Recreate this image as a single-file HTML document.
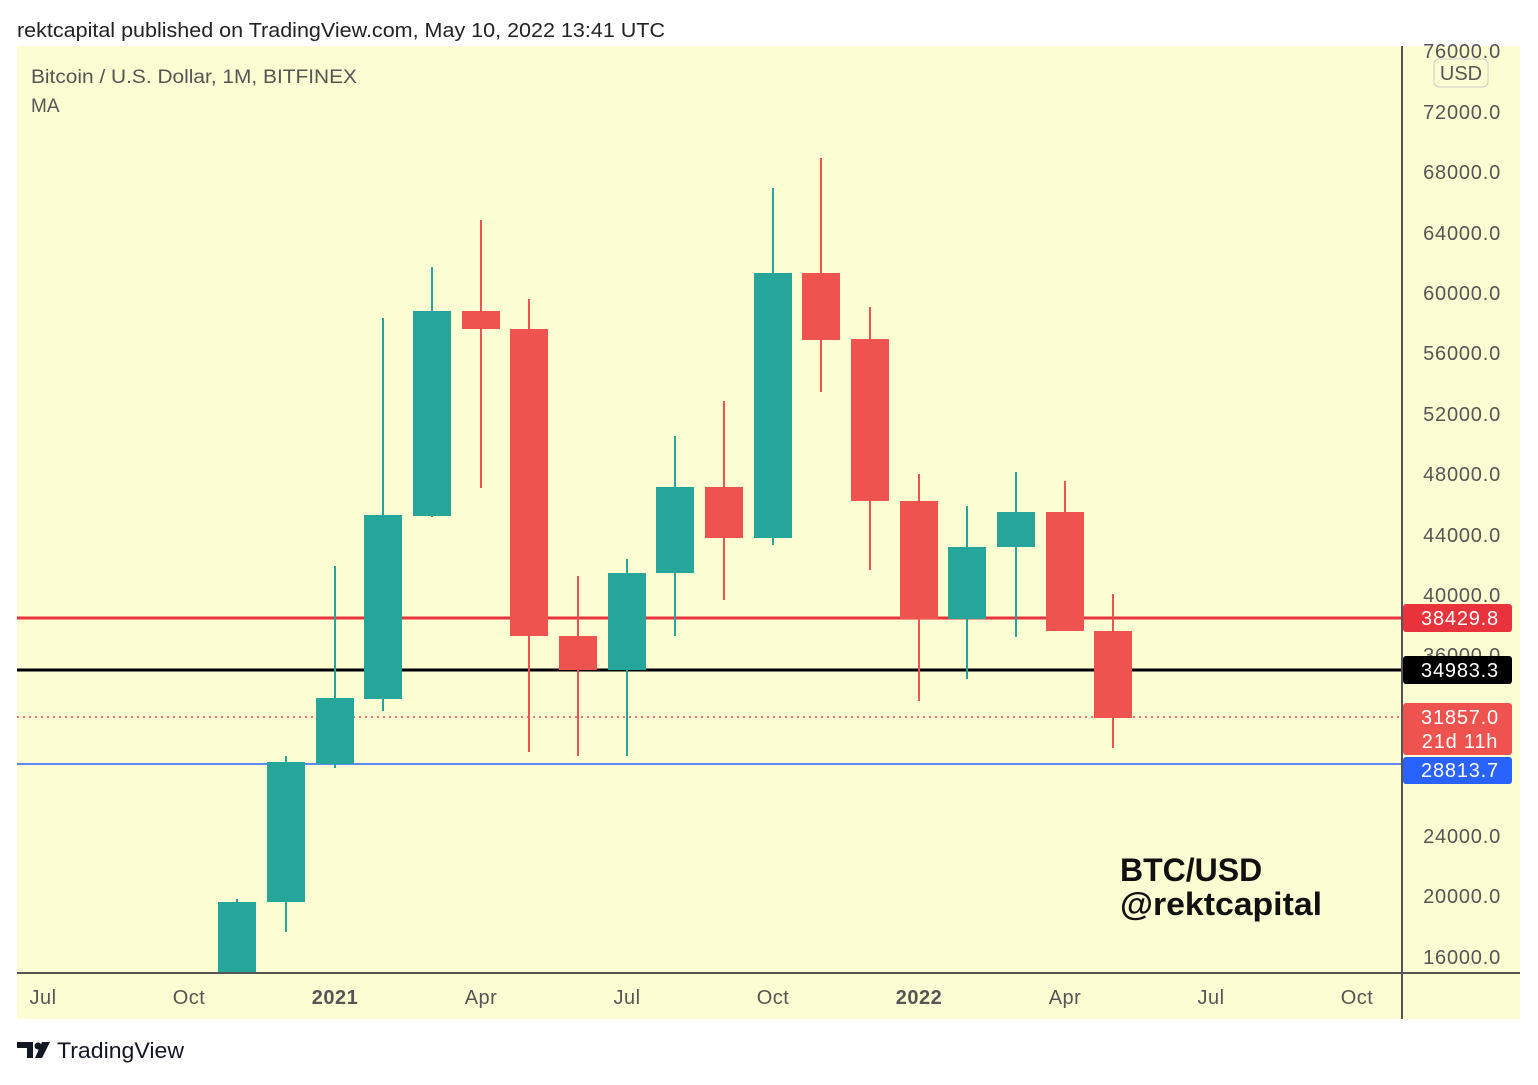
<!DOCTYPE html>
<html><head><meta charset="utf-8"><style>
body{margin:0;background:#fff;font-family:"Liberation Sans",sans-serif}
</style></head><body>
<svg width="1538" height="1080" xmlns="http://www.w3.org/2000/svg" font-family="Liberation Sans, sans-serif">
<rect width="1538" height="1080" fill="#fff"/>
<text x="17" y="37" font-size="20" fill="#222" textLength="648" lengthAdjust="spacingAndGlyphs">rektcapital published on TradingView.com, May 10, 2022 13:41 UTC</text>
<rect x="17" y="46" width="1503" height="973" fill="#fdfdd3"/>
<g font-size="20" fill="#555" text-anchor="end" letter-spacing="0.8">
<text x="1501" y="58">76000.0</text>
<text x="1501" y="119">72000.0</text>
<text x="1501" y="179">68000.0</text>
<text x="1501" y="240">64000.0</text>
<text x="1501" y="300">60000.0</text>
<text x="1501" y="360">56000.0</text>
<text x="1501" y="421">52000.0</text>
<text x="1501" y="481">48000.0</text>
<text x="1501" y="542">44000.0</text>
<text x="1501" y="602">40000.0</text>
<text x="1501" y="662">36000.0</text>
<text x="1501" y="843">24000.0</text>
<text x="1501" y="903">20000.0</text>
<text x="1501" y="964">16000.0</text>
</g>
<rect x="1434" y="59" width="54" height="28" rx="5" fill="#fdfdd3" stroke="#ccc"/>
<text x="1461" y="80" font-size="20" fill="#555" text-anchor="middle">USD</text>
<text x="31" y="83" font-size="19" fill="#555" textLength="326" lengthAdjust="spacingAndGlyphs">Bitcoin / U.S. Dollar, 1M, BITFINEX</text>
<text x="31" y="112" font-size="19" fill="#555">MA</text>
<!-- lines -->
<line x1="17" y1="618" x2="1402" y2="618" stroke="#e8323c" stroke-width="3"/>
<line x1="17" y1="670" x2="1402" y2="670" stroke="#000" stroke-width="3"/>
<line x1="17" y1="717" x2="1402" y2="717" stroke="#e05050" stroke-width="1.5" stroke-dasharray="2,4"/>
<line x1="17" y1="764" x2="1402" y2="764" stroke="#2962ff" stroke-width="1.5"/>
<!-- candles -->
<g stroke-width="2">
<g stroke="#26a69a" fill="#26a69a">
<line x1="237" y1="899" x2="237" y2="972"/><rect x="218" y="902" width="38" height="70" stroke="none"/>
<line x1="286" y1="756" x2="286" y2="932"/><rect x="267" y="762" width="38" height="140" stroke="none"/>
<line x1="335" y1="566" x2="335" y2="768"/><rect x="316" y="698" width="38" height="66" stroke="none"/>
<line x1="383" y1="318" x2="383" y2="711"/><rect x="364" y="515" width="38" height="184" stroke="none"/>
<line x1="432" y1="267" x2="432" y2="517"/><rect x="413" y="311" width="38" height="205" stroke="none"/>
<line x1="627" y1="559" x2="627" y2="756"/><rect x="608" y="573" width="38" height="97" stroke="none"/>
<line x1="675" y1="436" x2="675" y2="636"/><rect x="656" y="487" width="38" height="86" stroke="none"/>
<line x1="773" y1="188" x2="773" y2="545"/><rect x="754" y="273" width="38" height="265" stroke="none"/>
<line x1="967" y1="506" x2="967" y2="679"/><rect x="948" y="547" width="38" height="72" stroke="none"/>
<line x1="1016" y1="472" x2="1016" y2="637"/><rect x="997" y="512" width="38" height="35" stroke="none"/>
</g>
<g stroke="#ef5350" fill="#ef5350">
<line x1="481" y1="220" x2="481" y2="488"/><rect x="462" y="311" width="38" height="18" stroke="none"/>
<line x1="529" y1="299" x2="529" y2="752"/><rect x="510" y="329" width="38" height="307" stroke="none"/>
<line x1="578" y1="576" x2="578" y2="756"/><rect x="559" y="636" width="38" height="34" stroke="none"/>
<line x1="724" y1="401" x2="724" y2="600"/><rect x="705" y="487" width="38" height="51" stroke="none"/>
<line x1="821" y1="158" x2="821" y2="392"/><rect x="802" y="273" width="38" height="67" stroke="none"/>
<line x1="870" y1="307" x2="870" y2="570"/><rect x="851" y="339" width="38" height="162" stroke="none"/>
<line x1="919" y1="474" x2="919" y2="701"/><rect x="900" y="501" width="38" height="118" stroke="none"/>
<line x1="1065" y1="481" x2="1065" y2="631"/><rect x="1046" y="512" width="38" height="119" stroke="none"/>
<line x1="1113" y1="594" x2="1113" y2="748"/><rect x="1094" y="631" width="38" height="87" stroke="none"/>
</g>
</g>
<!-- axes -->
<line x1="17" y1="973" x2="1520" y2="973" stroke="#555" stroke-width="2"/>
<line x1="1402" y1="46" x2="1402" y2="1019" stroke="#555" stroke-width="2"/>
<!-- price labels -->
<g font-size="20" fill="#fff" text-anchor="middle" letter-spacing="0.8">
<rect x="1403" y="604" width="109" height="28" rx="3" fill="#e8323c"/>
<text x="1460" y="625">38429.8</text>
<rect x="1403" y="656" width="109" height="28" rx="3" fill="#000"/>
<text x="1460" y="677">34983.3</text>
<rect x="1403" y="703" width="109" height="52" rx="3" fill="#ef5350"/>
<text x="1460" y="724">31857.0</text>
<text x="1460" y="748">21d 11h</text>
<rect x="1403" y="757" width="109" height="27" rx="3" fill="#2962ff"/>
<text x="1460" y="777">28813.7</text>
</g>
<!-- time labels -->
<g font-size="20" fill="#555" text-anchor="middle" letter-spacing="0.5">
<text x="43" y="1004">Jul</text>
<text x="189" y="1004">Oct</text>
<text x="335" y="1004" font-weight="bold">2021</text>
<text x="481" y="1004">Apr</text>
<text x="627" y="1004">Jul</text>
<text x="773" y="1004">Oct</text>
<text x="919" y="1004" font-weight="bold">2022</text>
<text x="1065" y="1004">Apr</text>
<text x="1211" y="1004">Jul</text>
<text x="1357" y="1004">Oct</text>
</g>
<text x="1120" y="881" font-size="32" font-weight="bold" fill="#111">BTC/USD</text>
<text x="1120" y="915" font-size="32" font-weight="bold" fill="#111" textLength="202" lengthAdjust="spacingAndGlyphs">@rektcapital</text>
<!-- logo -->
<path d="M17 1042h16v16h-6v-10h-10z" fill="#131722"/>
<circle cx="38" cy="1046" r="3.5" fill="#131722"/>
<path d="M42 1042h8l-8 16h-7z" fill="#131722"/>
<text x="57" y="1058" font-size="22" fill="#131722" textLength="127" lengthAdjust="spacingAndGlyphs">TradingView</text>
</svg>
</body></html>
